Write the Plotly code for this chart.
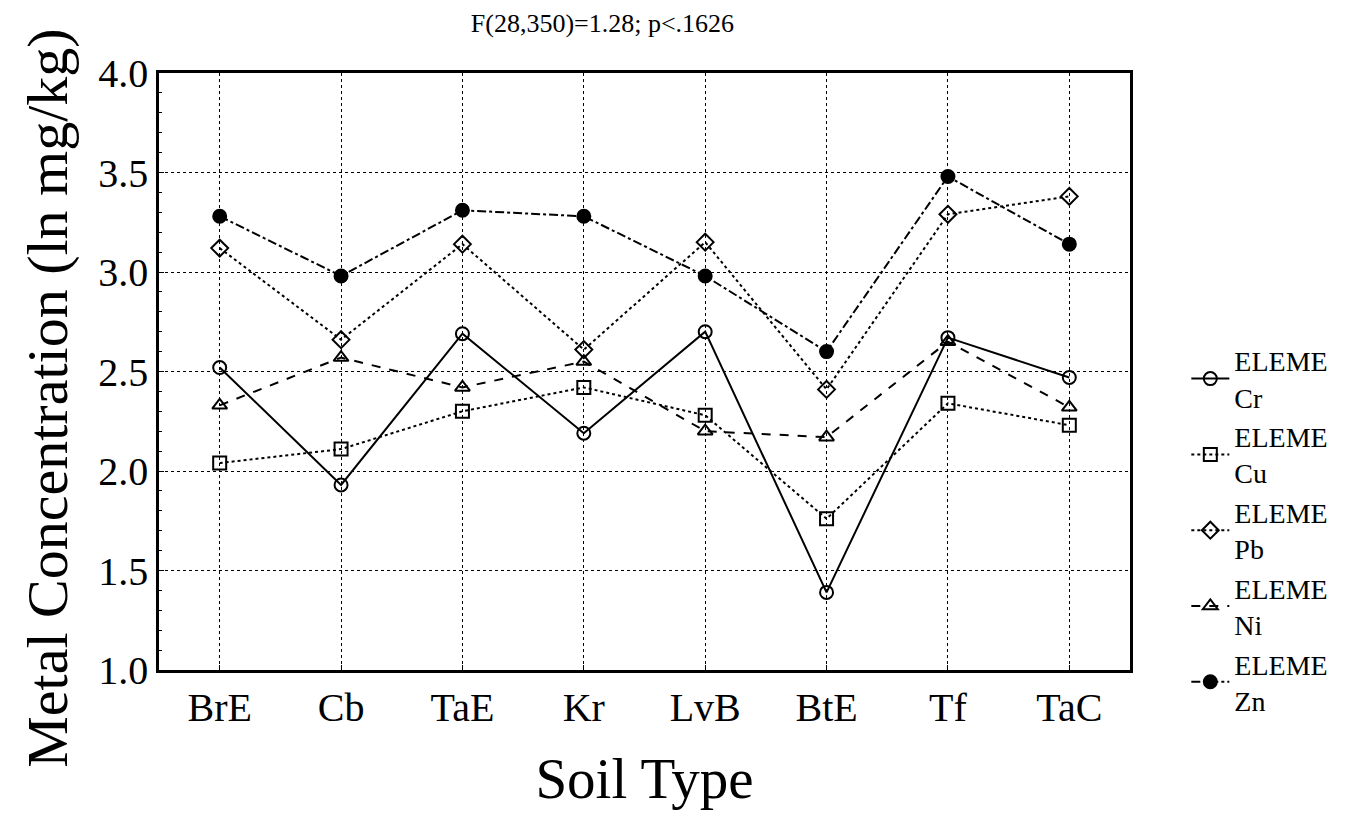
import plotly.graph_objects as go

soil_types = ["BrE", "Cb", "TaE", "Kr", "LvB", "BtE", "Tf", "TaC"]
cr = [2.52, 1.93, 2.69, 2.19, 2.70, 1.39, 2.67, 2.47]
cu = [2.04, 2.11, 2.30, 2.42, 2.28, 1.76, 2.34, 2.23]
pb = [3.12, 2.66, 3.14, 2.61, 3.15, 2.41, 3.29, 3.38]
ni = [2.33, 2.57, 2.42, 2.55, 2.20, 2.17, 2.65, 2.32]
zn = [3.28, 2.98, 3.31, 3.28, 2.98, 2.60, 3.48, 3.14]

series = [
    ("ELEME<br>Cr", cr, "solid", "circle-open"),
    ("ELEME<br>Cu", cu, "dot", "square-open"),
    ("ELEME<br>Pb", pb, "dot", "diamond-open"),
    ("ELEME<br>Ni", ni, "dash", "triangle-up-open"),
    ("ELEME<br>Zn", zn, "dashdot", "circle"),
]

fig = go.Figure()
for name, vals, dash, sym in series:
    fig.add_trace(go.Scatter(
        x=soil_types, y=vals, name=name, mode="lines+markers",
        line=dict(color="black", width=2, dash=dash),
        marker=dict(symbol=sym, size=13, color="black", line=dict(color="black", width=2)),
    ))

serif = "Liberation Serif, Times New Roman, serif"
fig.update_layout(
    width=1351, height=821,
    paper_bgcolor="white", plot_bgcolor="white",
    margin=dict(l=151, r=229, t=65, b=159),
    font=dict(family=serif, color="black"),
    title=dict(text="F(28,350)=1.28; p<.1626", x=0.44, xanchor="center",
               y=1 - 15 / 821, yanchor="middle",
               font=dict(size=26, family=serif)),
    legend=dict(x=1.058, y=0.56, xanchor="left", yanchor="top",
                font=dict(size=28, family=serif),
                bgcolor="rgba(0,0,0,0)", itemwidth=38),
    showlegend=True,
    annotations=[dict(
        text="Metal Concentration (ln mg/kg)", textangle=-90,
        xref="paper", yref="paper", x=-0.115, y=0.455,
        xanchor="center", yanchor="middle", showarrow=False,
        font=dict(size=58, family=serif, color="black"),
    )],
)
fig.update_xaxes(
    title=dict(text="Soil Type", font=dict(size=57, family=serif), standoff=30),
    tickfont=dict(size=40, family=serif),
    showline=True, linecolor="black", linewidth=2.5, mirror=True,
    showgrid=True, gridcolor="black", griddash="dot", gridwidth=1,
    ticks="inside", ticklen=5, tickcolor="black", range=[-0.5, 7.5],
)
fig.update_yaxes(
    tickfont=dict(size=40, family=serif),
    range=[1.0, 4.0], dtick=0.5, tickformat=".1f",
    showline=True, linecolor="black", linewidth=2.5, mirror=True,
    showgrid=True, gridcolor="black", griddash="dot", gridwidth=1,
    ticks="inside", ticklen=5, tickcolor="black", zeroline=False,
    minor=dict(dtick=0.1, ticks="inside", ticklen=3, tickcolor="black", showgrid=False),
)
fig.write_html("out.html")
